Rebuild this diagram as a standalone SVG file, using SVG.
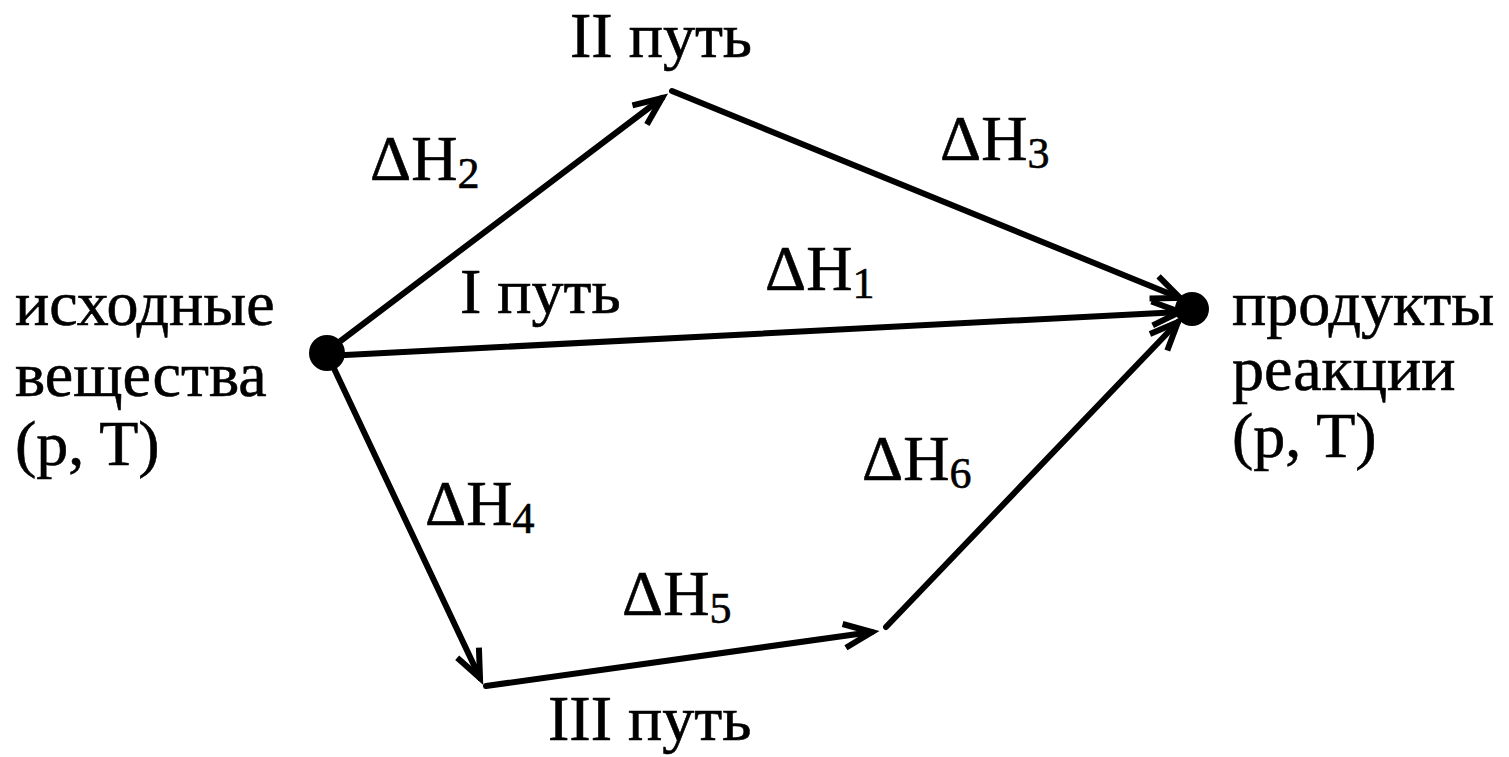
<svg xmlns="http://www.w3.org/2000/svg" width="1509" height="757" viewBox="0 0 1509 757">
<defs>
<marker id="arr" markerUnits="userSpaceOnUse" markerWidth="40" markerHeight="34" viewBox="-32 -17 40 34" refX="0" refY="0" orient="auto">
<path d="M-28,-12 L0,0 L-28,12" fill="none" stroke="#000" stroke-width="6"/>
</marker>
<style>
.t{font-family:"Liberation Serif","Times New Roman",serif;font-size:64px;fill:#000;stroke:#000;stroke-width:0.6}
.s{font-size:44px}
.l{stroke:#000;stroke-width:6;fill:none;stroke-linecap:round}
</style>
</defs>
<rect width="1509" height="757" fill="#fff"/>
<g id="connectors">
<line class="l" x1="326" y1="352" x2="662" y2="98" marker-end="url(#arr)"/>
<line class="l" x1="672" y1="91" x2="1180" y2="298" marker-end="url(#arr)"/>
<line class="l" x1="326" y1="356" x2="1180" y2="312" marker-end="url(#arr)"/>
<line class="l" x1="330" y1="360" x2="480" y2="678" marker-end="url(#arr)"/>
<line class="l" x1="486" y1="686" x2="872" y2="632" marker-end="url(#arr)"/>
<line class="l" x1="886" y1="627" x2="1178" y2="322" marker-end="url(#arr)"/>
</g>
<g id="start">
<circle cx="327" cy="353" r="18" fill="#000"/>
<text class="t" x="15" y="325">исходные</text>
<text class="t" x="15" y="396">вещества</text>
<text class="t" x="15" y="465">(p, T)</text>
</g>
<g id="end">
<circle cx="1192" cy="309" r="17" fill="#000"/>
<text class="t" x="1232" y="325">продукты</text>
<text class="t" x="1232" y="390">реакции</text>
<text class="t" x="1232" y="457">(p, T)</text>
</g>
<g id="labels">
<text class="t" x="570" y="57">II путь</text>
<text class="t" x="460" y="313">I путь</text>
<text class="t" x="548" y="740">III путь</text>
<text class="t" x="370" y="180">ΔH<tspan class="s" dy="8">2</tspan></text>
<text class="t" x="940" y="160">ΔH<tspan class="s" dy="8">3</tspan></text>
<text class="t" x="765" y="290">ΔH<tspan class="s" dy="8">1</tspan></text>
<text class="t" x="425" y="525">ΔH<tspan class="s" dy="8">4</tspan></text>
<text class="t" x="622" y="615">ΔH<tspan class="s" dy="8">5</tspan></text>
<text class="t" x="862" y="480">ΔH<tspan class="s" dy="8">6</tspan></text>
</g>
</svg>
